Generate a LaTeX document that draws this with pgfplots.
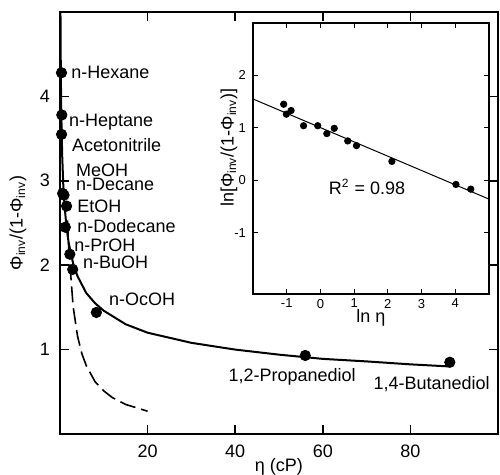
\documentclass[border=0pt]{standalone}
\usepackage{fontspec}
\setmainfont{Liberation Sans}
\usepackage{pgfplots}
\pgfplotsset{compat=1.18}
\begin{document}
\begin{tikzpicture}[font=\fontsize{9}{10.8}\selectfont]
\begin{axis}[
  at={(0,0)}, anchor=south west, scale only axis,
  width=219pt, height=211pt,
  xmin=0, xmax=100, ymin=0, ymax=5,
  xtick={20,40,60,80}, ytick={1,2,3,4},
  tick align=inside, major tick length=4.5pt,
  axis line style={line width=1pt},
  tick style={line width=0.8pt, black},
  /pgf/number format/assume math mode=true,
  ticklabel style={font=\fontsize{9}{10}\selectfont},
  xticklabel style={yshift=-2pt},
  yticklabel style={xshift=-1.5pt},
  xlabel={η (cP)},
  ylabel={Φ\textsubscript{inv}/(1-Φ\textsubscript{inv})},
  xlabel style={at={(axis description cs:0.5,-0.078)}, anchor=center},
  ylabel style={at={(axis description cs:-0.096,0.5)}, anchor=center},
  clip=false,
]
% solid curve
\addplot[black, line width=1pt] coordinates {
 (0.11,4.99) (0.15,4.58) (0.2,4.23) (0.3,3.79) (0.5,3.30) (0.75,2.95) (1,2.73)
 (1.5,2.44) (2,2.26) (3,2.02) (4,1.87) (6,1.67) (8,1.55) (10,1.46) (15,1.30)
 (20,1.20) (30,1.08) (40,1.00) (50,0.94) (60,0.89) (70,0.86) (80,0.825) (89,0.80)
};
% dashed curve
\addplot[black, line width=0.8pt, dash pattern=on 8pt off 3pt] coordinates {
 (1.7,2.53) (2,2.19) (3,1.51) (4,1.16) (5,0.95) (6,0.81)
 (8,0.62) (10,0.51) (12,0.43) (15,0.35) (20,0.27)
};
% data points
\addplot[only marks, mark=*, mark size=2.6pt, black] coordinates {
 (0.34,4.28) (0.42,3.78) (0.36,3.55) (0.61,2.85) (0.92,2.83) (1.5,2.70)
 (1.21,2.45) (2.25,2.13) (2.9,1.95) (8.3,1.44) (56,0.93) (89,0.85)
};
\begin{scope}[every node/.style={anchor=west, inner sep=0pt}]
\node at (axis cs:2.5,4.29) {n-Hexane};
\node at (axis cs:2.0,3.70) {n-Heptane};
\node at (axis cs:2.7,3.42) {Acetonitrile};
\node at (axis cs:3.6,3.12) {MeOH};
\node at (axis cs:3.6,2.96) {n-Decane};
\node at (axis cs:3.9,2.70) {EtOH};
\node at (axis cs:3.9,2.46) {n-Dodecane};
\node at (axis cs:3.2,2.24) {n-PrOH};
\node at (axis cs:5.2,2.03) {n-BuOH};
\node at (axis cs:11.1,1.59) {n-OcOH};
\node at (axis cs:38.4,0.68) {1,2-Propanediol};
\node at (axis cs:71.5,0.59) {1,4-Butanediol};
\end{scope}
\end{axis}
\begin{axis}[
  at={(96.5pt,70pt)}, anchor=south west, scale only axis,
  width=118pt, height=135.5pt,
  xmin=-2, xmax=5, ymin=-2.17, ymax=3,
  axis background/.style={fill=white},
  xtick={-1,0,1,2,3,4}, xticklabels={-1,0,1,2,3,4},
  ytick={-1,0,1,2}, yticklabels={-1,0,1,2},
  tick align=inside, major tick length=2.5pt,
  axis line style={line width=0.8pt},
  tick style={line width=0.6pt, black},
  ticklabel style={font=\fontsize{6.5}{7}\selectfont},
  xticklabel style={yshift=1pt},
  xlabel={ln η},
  ylabel={ln[Φ\textsubscript{inv}/(1-Φ\textsubscript{inv})]},
  xlabel style={at={(axis description cs:0.5,-0.089)}, anchor=center},
  ylabel style={at={(axis description cs:-0.102,0.54)}, anchor=center},
]
\addplot[black, line width=0.5pt] coordinates {(-2,1.55) (5,-0.36)};
\addplot[only marks, mark=*, mark size=1.6pt, black] coordinates {
 (-1.09,1.45) (-1.01,1.26) (-0.87,1.33) (-0.50,1.04) (-0.08,1.04) (0.19,0.89)
 (0.41,0.99) (0.81,0.75) (1.07,0.66) (2.12,0.36) (4.02,-0.08) (4.46,-0.17)
};
\node at (axis cs:1.38,-0.13) {R\textsuperscript{2} = 0.98};
\end{axis}
\pgfresetboundingbox
\path[use as bounding box] (-30pt,-20.5pt) rectangle (220pt,217pt);
\end{tikzpicture}
\end{document}
